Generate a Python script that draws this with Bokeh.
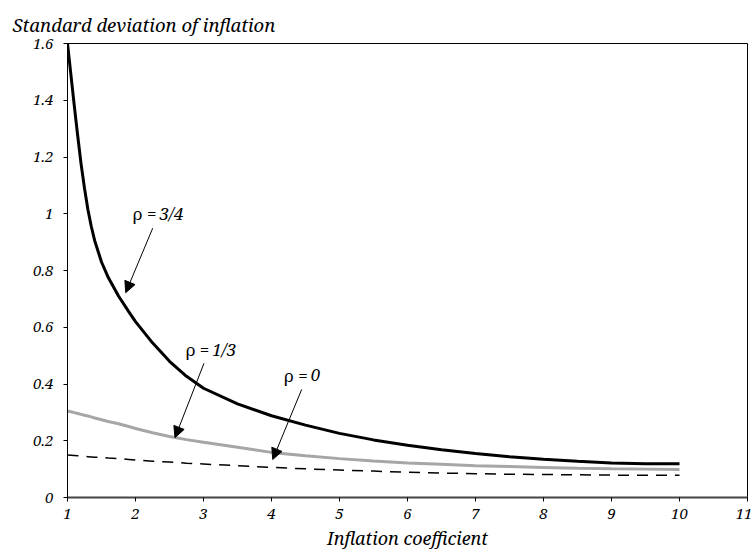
from bokeh.plotting import figure
from bokeh.models import Range1d, FixedTicker, Arrow, NormalHead, Title, ColumnDataSource
from bokeh.core.properties import value
from bokeh.embed import file_html
from bokeh.resources import INLINE

# Data
x_coef = [1.0, 1.05, 1.1, 1.15, 1.2, 1.25, 1.3, 1.35, 1.4, 1.5, 1.6, 1.75, 1.9, 2.0, 2.25, 2.5, 2.75,
          3.0, 3.5, 4.0, 4.5, 5.0, 5.5, 6.0, 6.5, 7.0, 7.5, 8.0, 8.5, 9.0, 9.5, 10.0]
sd_rho_34 = [1.6, 1.49, 1.38, 1.275, 1.175, 1.09, 1.015, 0.955, 0.905, 0.83, 0.775, 0.71, 0.655, 0.62, 0.545, 0.48, 0.427,
             0.385, 0.33, 0.288, 0.255, 0.226, 0.203, 0.184, 0.168, 0.155, 0.144, 0.135, 0.128, 0.122, 0.119, 0.119]
sd_rho_13 = [0.305, 0.302, 0.299, 0.296, 0.293, 0.290, 0.287, 0.284, 0.280, 0.274, 0.268, 0.260, 0.250, 0.243, 0.228, 0.215, 0.204,
             0.195, 0.177, 0.159, 0.147, 0.137, 0.129, 0.122, 0.117, 0.112, 0.109, 0.106, 0.103, 0.101, 0.100, 0.099]
sd_rho_0 = [0.150, 0.149, 0.148, 0.147, 0.146, 0.145, 0.144, 0.143, 0.142, 0.141, 0.139, 0.137, 0.134, 0.132, 0.128, 0.125, 0.121,
            0.118, 0.112, 0.106, 0.101, 0.097, 0.093, 0.089, 0.086, 0.084, 0.082, 0.081, 0.080, 0.079, 0.078, 0.078]

x_ticks = [1, 2, 3, 4, 5, 6, 7, 8, 9, 10, 11]
y_ticks = [0, 0.2, 0.4, 0.6, 0.8, 1.0, 1.2, 1.4, 1.6]
y_tick_labels = ["0", "0.2", "0.4", "0.6", "0.8", "1", "1.2", "1.4", "1.6"]

rho_values = ["3/4", "1/3", "0"]
label_x = [2.353, 3.13, 4.576]
label_y = [1.0, 0.522, 0.43]
arrow_x0 = [2.253, 3.007, 4.444]
arrow_y0 = [0.949, 0.473, 0.381]
arrow_x1 = [1.856, 2.581, 4.018]
arrow_y1 = [0.722, 0.211, 0.134]

FONT = "Noto Serif"

p = figure(width=752, height=552, output_backend="svg", toolbar_location=None,
           x_range=Range1d(1, 11), y_range=Range1d(0, 1.6),
           min_border_left=67, min_border_right=5, min_border_top=43, min_border_bottom=55)

p.xgrid.visible = False
p.ygrid.visible = False
p.outline_line_color = "black"
p.outline_line_width = 1
p.outline_line_alpha = 1

p.line(x_coef, sd_rho_0, line_color="black", line_width=1.5, line_dash="11 8")
p.line(x_coef, sd_rho_13, line_color="#a6a6a6", line_width=3)
p.line(x_coef, sd_rho_34, line_color="black", line_width=3)

# Title
t = Title(text="Standard deviation of inflation", align="left", offset=-55,
          vertical_align="top",
          text_font=FONT, text_font_style="italic", text_font_size="18.5px",
          text_color="black", standoff=10)
p.add_layout(t, "above")

# Axes
for ax in (p.xaxis, p.yaxis):
    ax.major_label_text_font = FONT
    ax.major_label_text_font_style = "italic"
    ax.major_label_text_font_size = "15px"
    ax.major_label_text_color = "black"
    ax.major_tick_in = 0
    ax.major_tick_out = 4
    ax.minor_tick_line_color = None
    ax.major_tick_line_color = "black"
    ax.axis_line_color = "black"

p.xaxis.ticker = FixedTicker(ticks=x_ticks)
p.yaxis.ticker = FixedTicker(ticks=y_ticks)
p.yaxis.major_label_overrides = {t_: l for t_, l in zip(y_ticks, y_tick_labels)}
p.xaxis.axis_line_color = "#444444"
p.xaxis.axis_line_width = 2
p.xaxis.major_label_standoff = 7
p.yaxis.major_label_standoff = 10

p.xaxis.axis_label = "Inflation coefficient"
p.xaxis.axis_label_text_font = FONT
p.xaxis.axis_label_text_font_style = "italic"
p.xaxis.axis_label_text_font_size = "18px"
p.xaxis.axis_label_text_color = "black"
p.xaxis.axis_label_standoff = 4

# Labels
src = ColumnDataSource(dict(x=label_x, y=label_y, v=rho_values, r=["ρ ="] * len(rho_values)))
p.text(x="x", y="y", text="r", source=src, text_align="right", text_baseline="middle",
       text_font=value(FONT), text_font_size="17px", text_color="black", x_offset=-3)
p.text(x="x", y="y", text="v", source=src, text_align="left", text_baseline="middle",
       text_font=value(FONT), text_font_style="italic", text_font_size="17px", text_color="black")

for xs, ys, xe, ye in zip(arrow_x0, arrow_y0, arrow_x1, arrow_y1):
    p.add_layout(Arrow(end=NormalHead(size=11, fill_color="black", line_color="black"),
                       x_start=xs, y_start=ys, x_end=xe, y_end=ye,
                       line_color="black", line_width=1))

open("out.html", "w").write(file_html(p, INLINE))
